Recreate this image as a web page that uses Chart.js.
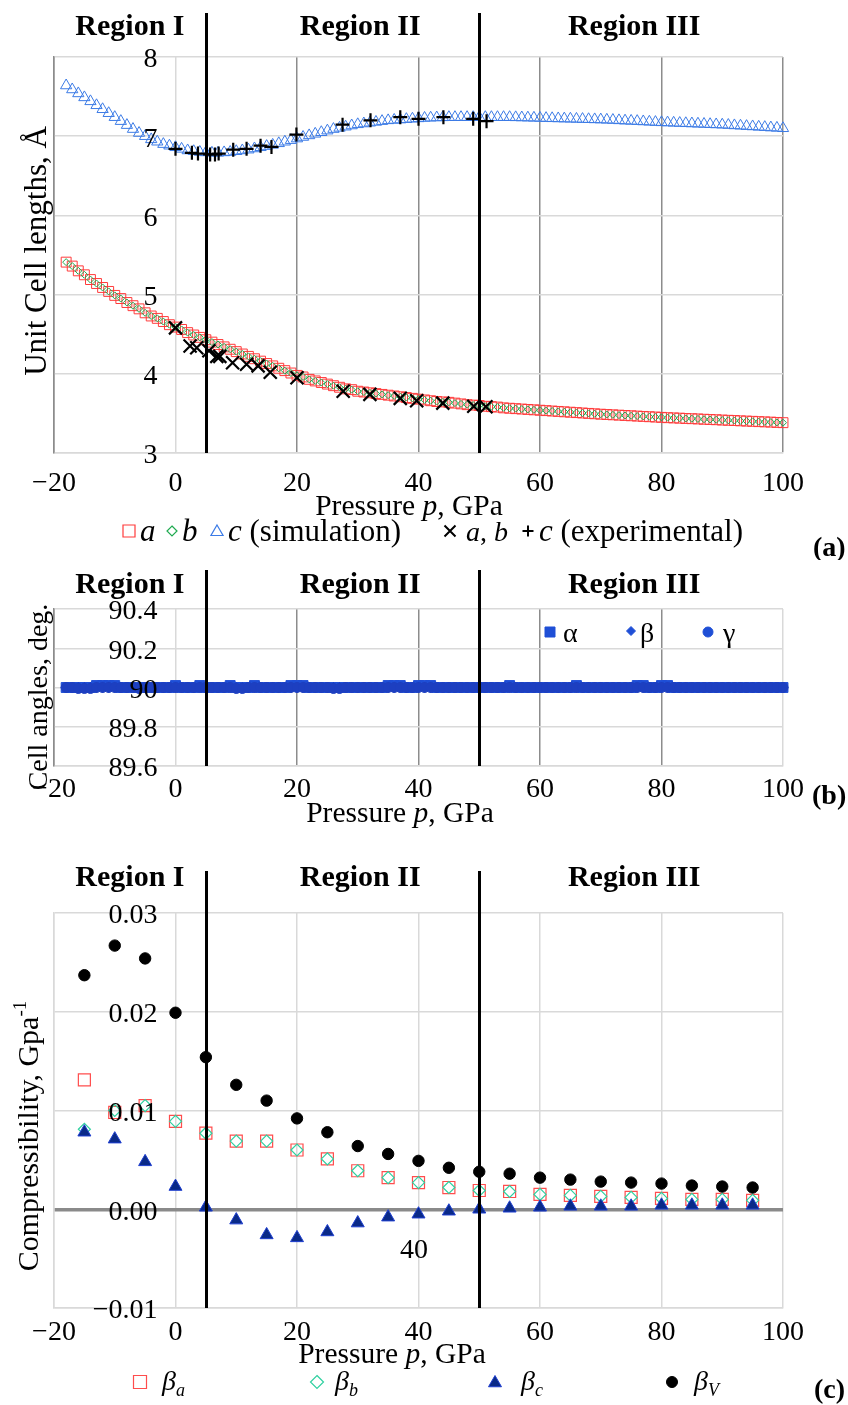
<!DOCTYPE html>
<html>
<head>
<meta charset="utf-8">
<title>Unit cell parameters vs pressure</title>
<script src="https://cdn.jsdelivr.net/npm/chart.js@4.4.0/dist/chart.umd.min.js"></script>
<style>
  body { margin: 0; background: #fff; }
  .panel { position: absolute; left: 0; width: 848px; }
  canvas { display: block; }
</style>
</head>
<body>
<div class="panel" style="top:0;height:560px"><canvas id="chartA" width="848" height="560"></canvas></div>
<div class="panel" style="top:560px;height:280px"><canvas id="chartB" width="848" height="280"></canvas></div>
<div class="panel" style="top:840px;height:565px"><canvas id="chartC" width="848" height="565"></canvas></div>
<script>
// ---------- data ----------

// region borders (GPa)
const regionBounds = [5, 50];
const regionNames = ['Region I', 'Region II', 'Region III'];

// simulated pressure grid, GPa
const simPressure = [
  -18, -17, -16, -15, -14, -13, -12, -11, -10, -9,
  -8, -7, -6, -5, -4, -3, -2, -1, 0, 1,
  2, 3, 4, 5, 6, 7, 8, 9, 10, 11,
  12, 13, 14, 15, 16, 17, 18, 19, 20, 21,
  22, 23, 24, 25, 26, 27, 28, 29, 30, 31,
  32, 33, 34, 35, 36, 37, 38, 39, 40, 41,
  42, 43, 44, 45, 46, 47, 48, 49, 50, 51,
  52, 53, 54, 55, 56, 57, 58, 59, 60, 61,
  62, 63, 64, 65, 66, 67, 68, 69, 70, 71,
  72, 73, 74, 75, 76, 77, 78, 79, 80, 81,
  82, 83, 84, 85, 86, 87, 88, 89, 90, 91,
  92, 93, 94, 95, 96, 97, 98, 99, 100
];

// (a) simulated lattice constants, Angstrom
const simA = [
  5.41, 5.36, 5.30, 5.25, 5.19, 5.14, 5.09, 5.04, 4.99, 4.95,
  4.90, 4.86, 4.82, 4.77, 4.73, 4.70, 4.66, 4.62, 4.59, 4.56,
  4.52, 4.49, 4.46, 4.43, 4.40, 4.37, 4.34, 4.31, 4.28, 4.25,
  4.22, 4.19, 4.16, 4.13, 4.10, 4.07, 4.04, 4.01, 3.98, 3.96,
  3.93, 3.91, 3.89, 3.87, 3.85, 3.83, 3.81, 3.80, 3.78, 3.77,
  3.76, 3.75, 3.74, 3.73, 3.72, 3.71, 3.70, 3.69, 3.68, 3.67,
  3.66, 3.65, 3.645, 3.64, 3.63, 3.62, 3.61, 3.605, 3.60, 3.59,
  3.585, 3.58, 3.57, 3.565, 3.56, 3.555, 3.55, 3.545, 3.54, 3.535,
  3.53, 3.525, 3.52, 3.515, 3.51, 3.505, 3.50, 3.495, 3.49, 3.486,
  3.482, 3.478, 3.474, 3.47, 3.466, 3.462, 3.458, 3.454, 3.45, 3.446,
  3.443, 3.44, 3.436, 3.433, 3.43, 3.426, 3.423, 3.42, 3.416, 3.413,
  3.41, 3.406, 3.403, 3.40, 3.396, 3.393, 3.39, 3.386, 3.383
];
const simB = [
  5.41, 5.36, 5.30, 5.25, 5.19, 5.14, 5.09, 5.04, 4.99, 4.95,
  4.90, 4.86, 4.82, 4.77, 4.73, 4.70, 4.66, 4.62, 4.59, 4.56,
  4.52, 4.49, 4.46, 4.43, 4.40, 4.37, 4.34, 4.31, 4.28, 4.25,
  4.22, 4.19, 4.16, 4.13, 4.10, 4.07, 4.04, 4.01, 3.98, 3.96,
  3.93, 3.91, 3.89, 3.87, 3.85, 3.83, 3.81, 3.80, 3.78, 3.77,
  3.76, 3.75, 3.74, 3.73, 3.72, 3.71, 3.70, 3.69, 3.68, 3.67,
  3.66, 3.65, 3.645, 3.64, 3.63, 3.62, 3.61, 3.605, 3.60, 3.59,
  3.585, 3.58, 3.57, 3.565, 3.56, 3.555, 3.55, 3.545, 3.54, 3.535,
  3.53, 3.525, 3.52, 3.515, 3.51, 3.505, 3.50, 3.495, 3.49, 3.486,
  3.482, 3.478, 3.474, 3.47, 3.466, 3.462, 3.458, 3.454, 3.45, 3.446,
  3.443, 3.44, 3.436, 3.433, 3.43, 3.426, 3.423, 3.42, 3.416, 3.413,
  3.41, 3.406, 3.403, 3.40, 3.396, 3.393, 3.39, 3.386, 3.383
];
const simC = [
  7.64, 7.59, 7.54, 7.49, 7.44, 7.39, 7.34, 7.29, 7.24, 7.19,
  7.14, 7.09, 7.04, 7.00, 6.96, 6.93, 6.90, 6.88, 6.86, 6.84,
  6.82, 6.81, 6.80, 6.795, 6.79, 6.79, 6.795, 6.80, 6.81, 6.82,
  6.83, 6.845, 6.86, 6.875, 6.89, 6.91, 6.93, 6.95, 6.97, 6.99,
  7.01, 7.03, 7.05, 7.07, 7.09, 7.105, 7.12, 7.135, 7.15, 7.16,
  7.17, 7.18, 7.19, 7.20, 7.205, 7.21, 7.215, 7.22, 7.225, 7.23,
  7.233, 7.236, 7.238, 7.24, 7.24, 7.24, 7.24, 7.24, 7.24, 7.24,
  7.24, 7.24, 7.24, 7.24, 7.238, 7.236, 7.234, 7.232, 7.23, 7.228,
  7.226, 7.224, 7.222, 7.22, 7.218, 7.216, 7.214, 7.212, 7.21, 7.207,
  7.204, 7.20, 7.196, 7.193, 7.19, 7.186, 7.182, 7.178, 7.175, 7.172,
  7.169, 7.166, 7.163, 7.16, 7.157, 7.154, 7.151, 7.148, 7.145, 7.141,
  7.136, 7.132, 7.127, 7.123, 7.118, 7.114, 7.109, 7.105, 7.10
];

// (a) experimental points
const expPressureAB = [0, 2.4, 3.5, 5.5, 6.8, 7.3, 9.4, 11.7, 13.6, 15.6, 20, 27.6, 32, 37, 39.7, 44, 49.1, 51.1];
const expAB = [4.58, 4.35, 4.33, 4.29, 4.22, 4.22, 4.14, 4.12, 4.10, 4.02, 3.95, 3.78, 3.74, 3.69, 3.66, 3.63, 3.59, 3.585];
const expPressureC = [0, 2.7, 3.7, 5.7, 6.5, 7.1, 9.5, 11.7, 14, 15.8, 19.9, 27.5, 32.1, 37, 40, 44.1, 49, 51.2];
const expC = [6.84, 6.79, 6.78, 6.77, 6.77, 6.78, 6.83, 6.84, 6.88, 6.865, 7.02, 7.146, 7.20, 7.24, 7.22, 7.24, 7.22, 7.19];

// (b) cell angles, degrees
const alphaDeg = [
  90, 90, 90, 90, 90, 90.01, 90.01, 90.01, 90.01, 90,
  90, 90, 90, 90, 90, 90, 90, 90, 90.01, 90,
  90, 90, 90.01, 90, 90, 90, 90, 90.01, 90, 90,
  90, 90.01, 90, 90, 90, 90, 90, 90.01, 90.01, 90.01,
  90, 90, 90, 90, 90, 90, 90, 90, 90, 90,
  90, 90, 90, 90.01, 90.01, 90.01, 90, 90, 90.01, 90.01,
  90.01, 90, 90, 90, 90, 90, 90, 90, 90, 90,
  90, 90, 90, 90.01, 90, 90, 90, 90, 90, 90,
  90, 90, 90, 90, 90.01, 90, 90, 90, 90, 90,
  90, 90, 90, 90, 90.01, 90.01, 90, 90, 90.01, 90.01,
  90, 90, 90, 90, 90, 90, 90, 90, 90, 90,
  90, 90, 90, 90, 90, 90, 90, 90, 90
];
const betaDeg = [
  90, 90, 90, 90, 90, 90, 90, 90, 90, 90,
  90, 90, 90, 90, 90, 90, 90, 90, 90, 90,
  90, 90, 90, 90, 90, 90, 90, 90, 90, 90,
  90, 90, 90, 90, 90, 90, 90, 90, 90, 90,
  90, 90, 90, 90, 90, 90, 90, 90, 90, 90,
  90, 90, 90, 90, 90, 90, 90, 90, 90, 90,
  90, 90, 90, 90, 90, 90, 90, 90, 90, 90,
  90, 90, 90, 90, 90, 90, 90, 90, 90, 90,
  90, 90, 90, 90, 90, 90, 90, 90, 90, 90,
  90, 90, 90, 90, 90, 90, 90, 90, 90, 90,
  90, 90, 90, 90, 90, 90, 90, 90, 90, 90,
  90, 90, 90, 90, 90, 90, 90, 90, 90
];
const gammaDeg = [
  90, 90, 89.995, 89.995, 89.995, 90, 90, 90, 90, 90,
  90, 90, 89.995, 90, 90, 90, 90, 90, 90, 90,
  90, 90, 90, 90, 90, 90, 90, 90, 89.995, 89.995,
  90, 90, 90, 90, 90, 90, 90, 90, 90, 90,
  90, 90, 90, 90, 89.995, 89.995, 90, 90, 90, 90,
  90, 90, 90, 90, 90, 90, 90, 90, 90, 90,
  90, 90, 90, 90, 90, 90, 90, 90, 90, 90,
  90, 90, 90, 90, 90, 90, 90, 90, 90, 90,
  90, 90, 90, 90, 90, 90, 90, 90, 90, 90,
  90, 90, 90, 90, 90, 90, 90, 90, 90, 90,
  90, 90, 90, 90, 90, 90, 90, 90, 90, 90,
  90, 90, 90, 90, 90, 90, 90, 90, 90
];

// (c) compressibilities, 1/GPa
const compPressure = [-15, -10, -5, 0, 5, 10, 15, 20, 25, 30, 35, 40, 45, 50, 55, 60, 65, 70, 75, 80, 85, 90, 95];
const betaA = [0.0131, 0.0098, 0.0105, 0.0089, 0.0077, 0.0069, 0.0069, 0.0060, 0.0051, 0.0039, 0.0032, 0.0027,
  0.0022, 0.0019, 0.0018, 0.0015, 0.0014, 0.0013, 0.0012, 0.0011, 0.0010, 0.0010, 0.0009];
const betaB = [0.0081, 0.0100, 0.0105, 0.0089, 0.0077, 0.0069, 0.0069, 0.0060, 0.0051, 0.0039, 0.0032, 0.0027,
  0.0022, 0.0019, 0.0018, 0.0015, 0.0014, 0.0013, 0.0012, 0.0011, 0.0010, 0.0010, 0.0009];
const betaC = [0.0078, 0.0071, 0.0048, 0.0023, 0.0002, -0.0011, -0.0026, -0.0029, -0.0023, -0.0014, -0.0008, -0.0005,
  -0.0002, 0.0000, 0.0001, 0.0002, 0.0003, 0.0003, 0.0003, 0.0004, 0.0004, 0.0004, 0.0004];
const betaV = [0.0237, 0.0267, 0.0254, 0.0199, 0.0154, 0.0126, 0.0110, 0.0092, 0.0078, 0.0064, 0.0056, 0.0049,
  0.0042, 0.0038, 0.0036, 0.0032, 0.0030, 0.0028, 0.0027, 0.0026, 0.0024, 0.0023, 0.0022];

// ---------- helpers ----------
const SERIF = '"Liberation Serif", "Times New Roman", serif';
const LIGHT = '#d9d9d9';
const DARK = '#8c8c8c';

function font(size, style) {
  return (style || '') + ' ' + size + 'px ' + SERIF;
}

function pts(xs, ys) {
  return xs.map((x, i) => ({ x: x, y: ys[i] }));
}

function minus(v) {
  return v < 0 ? '\u2212' + String(-v) : String(v);
}

// text made of several runs: [text, font, baseline shift]
function drawRich(ctx, parts, x, y, align) {
  let w = 0;
  parts.forEach(p => { ctx.font = p[1]; w += ctx.measureText(p[0]).width; });
  let cx = align === 'center' ? x - w / 2 : x;
  ctx.textAlign = 'left';
  ctx.textBaseline = 'alphabetic';
  parts.forEach(p => {
    ctx.font = p[1];
    ctx.fillText(p[0], cx, y + (p[2] || 0));
    cx += ctx.measureText(p[0]).width;
  });
}

function drawRotated(ctx, parts, x, y) {
  ctx.save();
  ctx.translate(x, y);
  ctx.rotate(-Math.PI / 2);
  drawRich(ctx, parts, 0, 0, 'center');
  ctx.restore();
}

// legend markers
function marker(ctx, style, x, y, r, stroke, fill, lw) {
  ctx.save();
  ctx.beginPath();
  ctx.strokeStyle = stroke;
  ctx.fillStyle = fill || 'rgba(0,0,0,0)';
  ctx.lineWidth = lw || 1;
  if (style === 'rect') ctx.rect(x - r, y - r, 2 * r, 2 * r);
  else if (style === 'rectRot') {
    ctx.moveTo(x, y - r); ctx.lineTo(x + r, y); ctx.lineTo(x, y + r); ctx.lineTo(x - r, y); ctx.closePath();
  } else if (style === 'triangle') {
    ctx.moveTo(x, y - r); ctx.lineTo(x + r * 0.866, y + r / 2); ctx.lineTo(x - r * 0.866, y + r / 2); ctx.closePath();
  } else if (style === 'circle') ctx.arc(x, y, r, 0, Math.PI * 2);
  else if (style === 'crossRot') {
    ctx.moveTo(x - r, y - r); ctx.lineTo(x + r, y + r); ctx.moveTo(x + r, y - r); ctx.lineTo(x - r, y + r);
  } else if (style === 'cross') {
    ctx.moveTo(x - r, y); ctx.lineTo(x + r, y); ctx.moveTo(x, y - r); ctx.lineTo(x, y + r);
  }
  if (fill) ctx.fill();
  ctx.stroke();
  ctx.restore();
}

const f28 = font(28);
const f28i = font(28, 'italic');
const f31 = font(31);
const f31i = font(31, 'italic');
const fT = font(29.5);
const fTi = font(29.5, 'italic');
const pressureTitle = [['Pressure ', fT], ['p', fTi], [', GPa', fT]];

// per-panel decoration (titles, region labels, legends)
const decoFor = {
  chartA: {
    lineTop: 13,
    regionBase: 35,
    yFmt: v => String(Math.round(v)),
    yTitle: { parts: [['Unit Cell lengths, \u00c5', font(31)]], x: 46, y: 251 },
    xTitle: { x: 409, y: 515 },
    panel: { text: '(a)', x: 813, y: 556 },
    legend(ctx) {
      marker(ctx, 'rect', 129, 531, 6, '#ff3b3b', null, 1.2);
      drawRich(ctx, [['a', f31i]], 140, 541);
      marker(ctx, 'rectRot', 172, 531, 5, '#1faa50', null, 1.2);
      drawRich(ctx, [['b', f31i]], 182, 541);
      marker(ctx, 'triangle', 217, 532, 7, '#3c7be6', null, 1.2);
      drawRich(ctx, [['c', f31i], [' (simulation)', f31]], 228, 541);
      marker(ctx, 'crossRot', 450, 531, 5.5, '#000', null, 2);
      drawRich(ctx, [['a', f28i], [', ', f28], ['b', f28i]], 466, 541);
      marker(ctx, 'cross', 528, 531, 5.5, '#000', null, 2);
      drawRich(ctx, [['c', f31i], [' (experimental)', f31]], 539, 541);
    }
  },
  chartB: {
    lineTop: 10,
    regionBase: 33,
    yFmt: v => String(Math.round(v * 10) / 10),
    yTitle: { parts: [['Cell angles, deg.', font(28)]], x: 47, y: 137 },
    xTitle: { x: 400, y: 262 },
    panel: { text: '(b)', x: 812, y: 244 },
    legend(ctx) {
      const blue = '#1f4fd6';
      marker(ctx, 'rect', 550, 72, 5, blue, blue, 1);
      drawRich(ctx, [['\u03b1', f28]], 563, 82);
      marker(ctx, 'rectRot', 631, 71, 4.5, blue, blue, 1);
      drawRich(ctx, [['\u03b2', f28]], 640, 82);
      marker(ctx, 'circle', 708, 72, 5, blue, blue, 1);
      drawRich(ctx, [['\u03b3', f28]], 723, 82);
    }
  },
  chartC: {
    lineTop: 31,
    regionBase: 46,
    yFmt: v => {
      const s = (Math.round(v * 100) / 100).toFixed(2);
      return s === '-0.00' ? '0.00' : s.replace('-', '\u2212');
    },
    yTitle: { parts: [['Compressibility, Gpa', font(30)], ['-1', font(19), -12]], x: 38, y: 296 },
    xTitle: { x: 392, y: 523 },
    panel: { text: '(c)', x: 814, y: 558 },
    legend(ctx) {
      const f18i = font(18, 'italic');
      marker(ctx, 'rect', 140, 542, 6.5, '#ff4d4d', null, 1.2);
      drawRich(ctx, [['\u03b2', f28i], ['a', f18i, 6]], 162, 550);
      marker(ctx, 'rectRot', 317, 542, 6.5, '#2fd0a0', null, 1.2);
      drawRich(ctx, [['\u03b2', f28i], ['b', f18i, 6]], 335, 550);
      marker(ctx, 'triangle', 495, 543, 7.5, '#1f3fd0', '#0a2a88', 1);
      drawRich(ctx, [['\u03b2', f28i], ['c', f18i, 6]], 521, 550);
      marker(ctx, 'circle', 672, 542, 5.5, '#000', '#000', 1);
      drawRich(ctx, [['\u03b2', f28i], ['V', f18i, 6]], 694, 550);
      // stray "40" label that sits inside the original plot
      ctx.font = f28;
      ctx.textAlign = 'center';
      ctx.textBaseline = 'middle';
      ctx.fillText('40', 414, 411);
    }
  }
};

// region labels are placed at these pressures
const regionLabelAt = [-7.5, 30.4, 75.5];

const panelDeco = {
  id: 'panelDeco',
  afterDatasetsDraw(chart) {
    const d = decoFor[chart.canvas.id];
    const { ctx, chartArea } = chart;
    const x = chart.scales.x, y = chart.scales.y;
    ctx.save();
    ctx.strokeStyle = '#000';
    ctx.lineWidth = 3;
    regionBounds.forEach(p => {
      const px = Math.round(x.getPixelForValue(p)) + 0.5;
      ctx.beginPath();
      ctx.moveTo(px, d.lineTop);
      ctx.lineTo(px, chartArea.bottom);
      ctx.stroke();
    });
    // y tick labels sit just left of p = 0, as in the original
    ctx.fillStyle = '#000';
    ctx.font = f28;
    ctx.textAlign = 'right';
    ctx.textBaseline = 'middle';
    const lx = x.getPixelForValue(0) - 18;
    y.ticks.forEach(t => ctx.fillText(d.yFmt(t.value), lx, y.getPixelForValue(t.value) + 3));
    ctx.restore();
  },
  afterDraw(chart) {
    const d = decoFor[chart.canvas.id];
    const { ctx } = chart;
    const x = chart.scales.x;
    ctx.save();
    ctx.fillStyle = '#000';
    regionNames.forEach((name, i) => {
      ctx.font = font(30, 'bold');
      ctx.textAlign = 'center';
      ctx.textBaseline = 'alphabetic';
      ctx.fillText(name, x.getPixelForValue(regionLabelAt[i]), d.regionBase);
    });
    drawRotated(ctx, d.yTitle.parts, d.yTitle.x, d.yTitle.y);
    drawRich(ctx, pressureTitle, d.xTitle.x, d.xTitle.y, 'center');
    ctx.font = font(28, 'bold');
    ctx.textAlign = 'left';
    ctx.textBaseline = 'alphabetic';
    ctx.fillText(d.panel.text, d.panel.x, d.panel.y);
    d.legend(ctx);
    ctx.restore();
  }
};

function makeScales(o) {
  return {
    x: {
      type: 'linear',
      min: -20,
      max: 100,
      ticks: {
        stepSize: 20,
        padding: o.xTickPad,
        color: '#000',
        maxRotation: 0,
        autoSkip: false,
        font: { family: SERIF, size: 28 },
        callback: v => minus(v)
      },
      grid: { color: o.xGrid, lineWidth: 1.5, drawTicks: false },
      border: { display: true, color: o.xBorder, width: 1.5 },
      afterFit: s => { s.height = 40; }
    },
    y: {
      min: o.ymin,
      max: o.ymax,
      ticks: { stepSize: o.ystep, display: false },
      grid: { color: o.yGrid, lineWidth: o.yGridWidth || 1.5, drawTicks: false },
      border: { display: true, color: o.yBorder, width: 1.5 },
      afterFit: s => { s.width = 0; }
    }
  };
}

function baseOptions(padding, scales) {
  return {
    responsive: false,
    animation: false,
    events: [],
    layout: { padding: padding },
    plugins: { legend: { display: false }, tooltip: { enabled: false } },
    scales: scales
  };
}

const clear = 'rgba(0,0,0,0)';

// ---------- (a) unit cell lengths ----------
new Chart(document.getElementById('chartA'), {
  type: 'scatter',
  data: {
    datasets: [
      { label: 'c (experimental)', data: pts(expPressureC, expC), pointStyle: 'cross', pointRadius: 7,
        pointBorderColor: '#000', pointBorderWidth: 2.2, order: 0, clip: false },
      { label: 'a, b (experimental)', data: pts(expPressureAB, expAB), pointStyle: 'crossRot', pointRadius: 9.2,
        pointBorderColor: '#000', pointBorderWidth: 2.2, order: 1, clip: false },
      { label: 'c', data: pts(simPressure, simC), pointStyle: 'triangle', pointRadius: 6.5,
        pointBorderColor: '#3c7be6', pointBackgroundColor: clear, pointBorderWidth: 1, order: 2, clip: false },
      { label: 'b', data: pts(simPressure, simB), pointStyle: 'rectRot', pointRadius: 3.5,
        pointBorderColor: '#1faa50', pointBackgroundColor: clear, pointBorderWidth: 1, order: 3, clip: false },
      { label: 'a', data: pts(simPressure, simA), pointStyle: 'rect', pointRadius: 7,
        pointBorderColor: '#ff3b3b', pointBackgroundColor: clear, pointBorderWidth: 1, order: 4, clip: false }
    ]
  },
  options: baseOptions({ left: 54, right: 65, top: 57, bottom: 67 }, makeScales({
    ymin: 3, ymax: 8, ystep: 1, xTickPad: 14,
    xGrid: c => (c.tick && c.tick.value === 0 ? LIGHT : DARK),
    xBorder: LIGHT, yGrid: LIGHT, yBorder: DARK
  })),
  plugins: [panelDeco]
});

// ---------- (b) cell angles ----------
new Chart(document.getElementById('chartB'), {
  type: 'scatter',
  data: {
    datasets: [
      { label: '\u03b3', data: pts(simPressure, gammaDeg), pointStyle: 'circle', pointRadius: 5,
        pointBorderColor: '#1d3fc0', pointBackgroundColor: '#1d3fc0', pointBorderWidth: 1, clip: false },
      { label: '\u03b2', data: pts(simPressure, betaDeg), pointStyle: 'rectRot', pointRadius: 5,
        pointBorderColor: '#1238c8', pointBackgroundColor: '#1238c8', pointBorderWidth: 1, clip: false },
      { label: '\u03b1', data: pts(simPressure, alphaDeg), pointStyle: 'rect', pointRadius: 7,
        pointBorderColor: '#1f4fd6', pointBackgroundColor: '#1f4fd6', pointBorderWidth: 1, clip: false }
    ]
  },
  options: baseOptions({ left: 54, right: 65, top: 49, bottom: 34 }, makeScales({
    ymin: 89.6, ymax: 90.4, ystep: 0.2, xTickPad: 7,
    xGrid: c => (c.tick && (c.tick.value === 0 || c.tick.value === 100) ? LIGHT : DARK),
    xBorder: LIGHT, yGrid: LIGHT, yBorder: DARK
  })),
  plugins: [panelDeco]
});

// ---------- (c) compressibility ----------
new Chart(document.getElementById('chartC'), {
  type: 'scatter',
  data: {
    datasets: [
      { label: '\u03b2V', data: pts(compPressure, betaV), pointStyle: 'circle', pointRadius: 5.7,
        pointBorderColor: '#000', pointBackgroundColor: '#000', pointBorderWidth: 1, clip: false },
      { label: '\u03b2c', data: pts(compPressure, betaC), pointStyle: 'triangle', pointRadius: 7.5,
        pointBorderColor: '#1f3fd0', pointBackgroundColor: '#0a2a88', pointBorderWidth: 1, clip: false },
      { label: '\u03b2b', data: pts(compPressure, betaB), pointStyle: 'rectRot', pointRadius: 6,
        pointBorderColor: '#2fd0a0', pointBackgroundColor: clear, pointBorderWidth: 1.2, clip: false },
      { label: '\u03b2a', data: pts(compPressure, betaA), pointStyle: 'rect', pointRadius: 8.5,
        pointBorderColor: '#ff4d4d', pointBackgroundColor: clear, pointBorderWidth: 1.2, clip: false }
    ]
  },
  options: baseOptions({ left: 54, right: 65, top: 73, bottom: 57 }, makeScales({
    ymin: -0.01, ymax: 0.03, ystep: 0.01, xTickPad: 8,
    xGrid: LIGHT, xBorder: LIGHT,
    yGrid: c => (c.tick && Math.abs(c.tick.value) < 1e-9 ? '#8a8a8a' : LIGHT),
    yGridWidth: c => (c.tick && Math.abs(c.tick.value) < 1e-9 ? 3.5 : 1.5),
    yBorder: LIGHT
  })),
  plugins: [panelDeco]
});
</script>
</body>
</html>
